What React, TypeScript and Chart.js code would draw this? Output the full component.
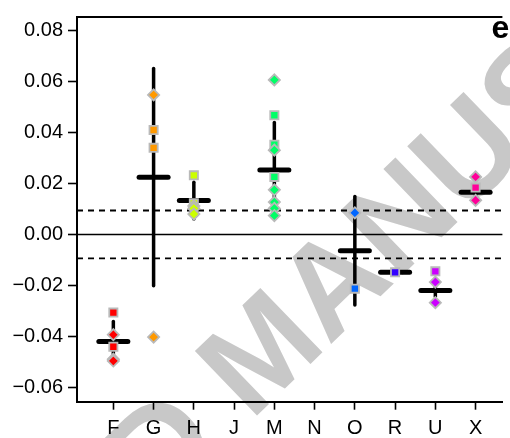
import React, { useEffect, useRef } from 'react';
import { Chart, registerables } from 'chart.js';

Chart.register(...registerables);

// ---- data ----
const categories = ['F', 'G', 'H', 'J', 'M', 'N', 'O', 'R', 'U', 'X'];
const hues: (number | null)[] = [0, 36, 72, null, 144, null, 216, 252, 288, 324];
const means: (number | null)[] = [-0.0421, 0.0225, 0.0133, null, 0.0253, null, -0.0064, -0.0149, -0.022, 0.0166];
const errors: (number | null)[] = [0.0079, 0.0427, 0.0072, null, 0.0187, null, 0.0213, 0.0005, 0.0025, 0.0015];
const squareValues: number[][] = [
  [-0.0307, -0.0441],
  [0.041, 0.034],
  [0.0232, 0.0122],
  [],
  [0.0468, 0.0352, 0.0226],
  [],
  [-0.0213],
  [-0.0149],
  [-0.0145],
  [0.0184],
];
const diamondValues: number[][] = [
  [-0.0394, -0.049, -0.0497],
  [0.0548, -0.0403],
  [0.0112, 0.0102, 0.008],
  [],
  [0.0607, 0.0331, 0.0175, 0.0127, 0.0102, 0.0074],
  [],
  [0.0085],
  [],
  [-0.0187, -0.0268],
  [0.0226, 0.0134],
];
const yTicks = [-0.06, -0.04, -0.02, 0, 0.02, 0.04, 0.06, 0.08];
const yMin = -0.0657;
const yMax = 0.0854;
const xMin = -0.903;
const xMax = 9.666;
const threshold = 0.0094;
const panelLabel = 'e';
const watermark = 'ACCEPTED MANUSCRIPT';
const watermarkLead = 'ACCEPTED ';

const FONT = 'Liberation Sans, Arial, sans-serif';

const colorOf = (i: number) => `hsl(${hues[i]}, 100%, 50%)`;

export default function App() {
  const ref = useRef<HTMLCanvasElement | null>(null);

  useEffect(() => {
    const canvas = ref.current;
    if (!canvas) return;

    const datasets: any[] = [];
    categories.forEach((_, i) => {
      if (diamondValues[i].length) {
        datasets.push({
          type: 'scatter',
          data: diamondValues[i].map((v) => ({ x: i, y: v })),
          pointStyle: 'rectRot',
          pointRadius: 5.6,
          backgroundColor: colorOf(i),
          borderColor: '#b9b9b9',
          borderWidth: 1.8,
          order: 0,
        });
      }
      if (squareValues[i].length) {
        datasets.push({
          type: 'scatter',
          data: squareValues[i].map((v) => ({ x: i, y: v })),
          pointStyle: 'rect',
          pointRadius: 5.8,
          backgroundColor: colorOf(i),
          borderColor: '#b9b9b9',
          borderWidth: 1.8,
          order: 1,
        });
      }
    });

    const bgPlugin = {
      id: 'watermark',
      beforeDraw(chart: any) {
        const ctx = chart.ctx;
        const size = 130;
        const ang = (-44 * Math.PI) / 180;
        const dx = Math.cos(ang);
        const dy = Math.sin(ang);
        const ux = Math.sin(ang);
        const uy = -Math.cos(ang);
        const h = 0.716 * size;
        const lsb = 0.073 * size;
        const tx = 193;
        const ty = 348;
        const px = tx - (lsb * dx + h * ux);
        const py = ty - (lsb * dy + h * uy);
        ctx.save();
        ctx.font = `bold ${size}px ${FONT}`;
        ctx.fillStyle = 'rgb(200,200,200)';
        ctx.textBaseline = 'alphabetic';
        ctx.textAlign = 'left';
        const lead = ctx.measureText(watermarkLead).width;
        ctx.translate(px, py);
        ctx.rotate(ang);
        ctx.fillText(watermark, -lead, 0);
        ctx.restore();
      },
    };

    const marksPlugin = {
      id: 'marks',
      beforeDatasetsDraw(chart: any) {
        const ctx = chart.ctx;
        const xs = chart.scales.x;
        const ys = chart.scales.y;
        const area = chart.chartArea;
        ctx.save();
        ctx.strokeStyle = '#000';
        ctx.lineWidth = 1.5;
        ctx.beginPath();
        ctx.moveTo(area.left, ys.getPixelForValue(0));
        ctx.lineTo(area.right, ys.getPixelForValue(0));
        ctx.stroke();
        ctx.lineWidth = 1.8;
        ctx.setLineDash([6, 5]);
        [threshold, -threshold].forEach((t) => {
          const py = ys.getPixelForValue(t);
          ctx.beginPath();
          ctx.moveTo(area.left, py);
          ctx.lineTo(area.right, py);
          ctx.stroke();
        });
        ctx.setLineDash([]);
        ctx.lineWidth = 3.5;
        ctx.lineCap = 'round';
        categories.forEach((_, i) => {
          const m = means[i];
          const e = errors[i];
          if (m == null || e == null) return;
          const px = xs.getPixelForValue(i);
          ctx.beginPath();
          ctx.moveTo(px, ys.getPixelForValue(m + e));
          ctx.lineTo(px, ys.getPixelForValue(m - e));
          ctx.stroke();
        });
        ctx.lineWidth = 5;
        categories.forEach((_, i) => {
          const m = means[i];
          if (m == null) return;
          const px = xs.getPixelForValue(i);
          const py = ys.getPixelForValue(m);
          ctx.beginPath();
          ctx.moveTo(px - 14.5, py);
          ctx.lineTo(px + 14.5, py);
          ctx.stroke();
        });
        ctx.restore();
      },
      afterDraw(chart: any) {
        const ctx = chart.ctx;
        const area = chart.chartArea;
        ctx.save();
        ctx.strokeStyle = '#000';
        ctx.lineWidth = 2;
        ctx.beginPath();
        ctx.moveTo(area.left - 1, area.top);
        ctx.lineTo(area.right, area.top);
        ctx.stroke();
        ctx.font = `bold 32px ${FONT}`;
        ctx.fillStyle = '#000';
        ctx.textAlign = 'left';
        ctx.textBaseline = 'alphabetic';
        ctx.fillText(panelLabel, 491.5, 38);
        ctx.restore();
      },
    };

    const tickFont = { family: FONT, size: 20 };

    const chart = new Chart(canvas, {
      type: 'scatter',
      data: { datasets },
      options: {
        animation: false,
        responsive: false,
        maintainAspectRatio: false,
        devicePixelRatio: 1,
        layout: { padding: { top: 10, right: 0, left: 0, bottom: 0 } },
        plugins: { legend: { display: false }, tooltip: { enabled: false } },
        scales: {
          x: {
            type: 'linear',
            min: xMin,
            max: xMax,
            afterBuildTicks: (s: any) => {
              s.ticks = categories.map((_, i) => ({ value: i }));
            },
            afterFit: (s: any) => {
              s.height = 36.3;
            },
            ticks: {
              callback: (v: any) => categories[v as number] ?? '',
              font: tickFont,
              color: '#000',
              padding: 6.6,
              maxRotation: 0,
              autoSkip: false,
            },
            grid: { drawOnChartArea: false, drawTicks: true, tickLength: 8, tickWidth: 1.6, tickColor: '#000' },
            border: { display: true, color: '#000', width: 2 },
          },
          y: {
            type: 'linear',
            min: yMin,
            max: yMax,
            afterBuildTicks: (s: any) => {
              s.ticks = yTicks.map((v) => ({ value: v }));
            },
            afterFit: (s: any) => {
              s.width = 77;
            },
            ticks: {
              callback: (v: any) => {
                const n = Number(v);
                return (n < -1e-9 ? '\u2212' : '') + Math.abs(n).toFixed(2);
              },
              font: tickFont,
              color: '#000',
              padding: 5,
            },
            grid: { drawOnChartArea: false, drawTicks: true, tickLength: 9, tickWidth: 1.6, tickColor: '#000' },
            border: { display: true, color: '#000', width: 2 },
          },
        },
      },
      plugins: [bgPlugin, marksPlugin],
    } as any);

    return () => chart.destroy();
  }, []);

  return (
    <div style={{ position: 'fixed', left: 0, top: 0, width: 510, height: 438 }}>
      <canvas ref={ref} width={510} height={438} style={{ width: 510, height: 438, display: 'block' }} />
    </div>
  );
}
